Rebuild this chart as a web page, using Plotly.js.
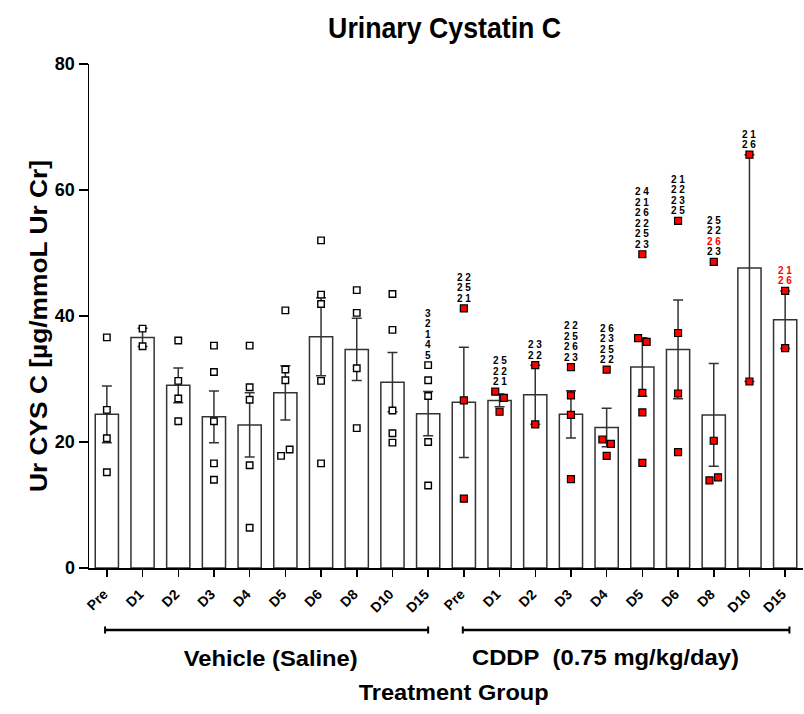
<!DOCTYPE html>
<html>
<head>
<meta charset="utf-8">
<script src="https://cdn.plot.ly/plotly-3.0.1.min.js"></script>
<style>html,body{margin:0;padding:0;background:#fff;}#chart{width:804px;height:714px;}</style>
</head>
<body>
<div id="chart"></div>
<script>
// ---- data ----
const days = ['Pre','D1','D2','D3','D4','D5','D6','D8','D10','D15'];
const groupNames = ['Vehicle (Saline)', 'CDDP\u00a0 (0.75 mg/kg/day)'];
const titleText = 'Urinary Cystatin C';
const yTitleText = 'Ur CYS C [µg/mmoL Ur Cr]';
const xTitleText = 'Treatment Group';

const vehicleMean = [24.4, 36.6, 29.0, 24.0, 22.7, 27.8, 36.7, 34.7, 29.5, 24.5];
const vehicleSem  = [4.5, 1.45, 2.75, 4.1, 5.1, 4.3, 6.2, 4.95, 4.7, 3.5];
const cddpMean    = [26.3, 26.6, 27.5, 24.4, 22.3, 31.9, 34.7, 24.3, 47.6, 39.4];
const cddpSem     = [8.75, 1.0, 4.7, 3.75, 3.05, 4.65, 7.85, 8.15, 18.0, 4.55];

const vehiclePoints = [
  [36.6, 25.1, 20.6, 15.2],
  [38.0, 35.2],
  [36.1, 29.7, 26.9, 23.3],
  [35.3, 31.1, 23.3, 16.6, 14.0],
  [35.3, 28.7, 26.7, 16.3, 6.4],
  [40.9, 31.5, 29.8, 17.8, 18.8],
  [52.0, 43.4, 41.9, 29.7, 16.6],
  [44.1, 40.5, 31.7, 22.2],
  [43.5, 37.8, 25.0, 21.4, 19.9],
  [32.2, 29.8, 27.3, 20.0, 13.1]
];
const cddpPoints = [
  [41.2, 26.6, 11.0],
  [28.0, 27.0, 24.8],
  [32.2, 22.8],
  [31.9, 27.4, 24.3, 14.1],
  [31.5, 20.4, 19.7, 17.8],
  [49.8, 36.5, 35.9, 27.8, 24.7, 16.7],
  [55.1, 37.3, 27.7, 18.4],
  [48.6, 20.2, 13.9, 14.4],
  [65.6, 29.6],
  [44.0, 34.9]
];

// animal id labels stacked above the top point (top to bottom)
const vehicleIds = [[],[],[],[],[],[],[],[],[],['3','2','1','4','5']];
const cddpIds = [
  ['22','25','21'],
  ['25','22','21'],
  ['23','22'],
  ['22','25','26','23'],
  ['26','23','25','22'],
  ['24','21','26','22','25','23'],
  ['21','22','23','25'],
  ['25','22','26','23'],
  ['21','26'],
  ['21','26']
];
// ids highlighted in red per CDDP day
const cddpRedIds = [[],[],[],[],[],[],[],['26'],[],['21','26']];

// ---- build ----
const FONT = 'Liberation Sans, Arial, Helvetica, sans-serif';
const n = days.length;
const idxV = days.map((d,i)=>i);
const idxC = days.map((d,i)=>i+n);

function spread(pointsByDay, offset){
  const xs=[], ys=[];
  pointsByDay.forEach((pts, d) => {
    let i = 0;
    while (i < pts.length){
      if (i+1 < pts.length && Math.abs(pts[i]-pts[i+1]) < 1.2){
        xs.push(d+offset-0.12, d+offset+0.12); ys.push(pts[i], pts[i+1]); i += 2;
      } else { xs.push(d+offset); ys.push(pts[i]); i += 1; }
    }
  });
  return {xs, ys};
}
const sv = spread(vehiclePoints, 0);
const sc = spread(cddpPoints, n);

const barStyle = {color:'#ffffff', line:{color:'#333333', width:1.5}};
const errStyle = (arr)=>({type:'data', array:arr, visible:true, color:'#333333', thickness:1.5, width:5});

const traces = [
  {type:'bar', x:idxV, y:vehicleMean, width:0.65, marker:barStyle, error_y:errStyle(vehicleSem), hoverinfo:'skip'},
  {type:'bar', x:idxC, y:cddpMean, width:0.65, marker:barStyle, error_y:errStyle(cddpSem), hoverinfo:'skip'},
  {type:'scatter', mode:'markers', x:sv.xs, y:sv.ys, cliponaxis:false,
   marker:{symbol:'square', size:6.5, color:'#ffffff', line:{color:'#000000', width:1.4}}},
  {type:'scatter', mode:'markers', x:sc.xs, y:sc.ys, cliponaxis:false,
   marker:{symbol:'square', size:7, color:'#ff0000', line:{color:'#000000', width:1.2}}}
];

const annotations = [];
function addIds(idsByDay, pointsByDay, offset, redByDay){
  idsByDay.forEach((ids, d) => {
    if (!ids.length) return;
    const top = Math.max(...pointsByDay[d]);
    ids.forEach((id, k) => {
      const red = redByDay && redByDay[d].includes(id);
      annotations.push({
        x: d+offset, y: top, xref:'x', yref:'y', showarrow:false,
        text: id.split('').join(' '),
        yanchor:'middle', xanchor:'center', borderpad:0,
        yshift: 10 + (ids.length-1-k)*10.5,
        font:{family:FONT, size:10, weight:'bold', color: red ? '#ff0000' : '#000000'}
      });
    });
  });
}
addIds(vehicleIds, vehiclePoints, 0, null);
addIds(cddpIds, cddpPoints, n, cddpRedIds);

const groupFont = {family:FONT, size:22, weight:'bold', color:'#000'};
annotations.push(
  {x:4.57, y:-0.179, xref:'x', yref:'paper', showarrow:false, text:groupNames[0],
   font:groupFont, xanchor:'center', yanchor:'middle'},
  {x:13.96, y:-0.177, xref:'x', yref:'paper', showarrow:false, text:groupNames[1],
   font:groupFont, xanchor:'center', yanchor:'middle'},
  {x:0.51, y:-0.248, xref:'paper', yref:'paper', showarrow:false, text:xTitleText,
   font:groupFont, xanchor:'center', yanchor:'middle'},
  {x:-0.07, y:0.48, xref:'paper', yref:'paper', showarrow:false, text:yTitleText, textangle:-90,
   font:{family:FONT, size:23, weight:'bold', color:'#000'}, xanchor:'center', yanchor:'middle'}
);

const by = -0.123, cap = 0.007;
const brackets = [[-0.05, 9.0], [9.97, 19.12]];
const shapes = [];
brackets.forEach(([a,b]) => {
  shapes.push({type:'line', xref:'x', yref:'paper', x0:a, x1:b, y0:by, y1:by, line:{color:'#000', width:2.5}});
  shapes.push({type:'line', xref:'x', yref:'paper', x0:a, x1:a, y0:by-cap, y1:by+cap, line:{color:'#000', width:2}});
  shapes.push({type:'line', xref:'x', yref:'paper', x0:b, x1:b, y0:by-cap, y1:by+cap, line:{color:'#000', width:2}});
});

const layout = {
  width:804, height:714,
  margin:{l:89, r:1, t:64, b:146},
  paper_bgcolor:'#fff', plot_bgcolor:'#fff',
  showlegend:false,
  title:{text:titleText, xref:'container', x:0.553, xanchor:'center', yref:'container', y:0.962, yanchor:'middle',
         font:{family:FONT, size:30, weight:'bold', color:'#000'}},
  xaxis:{range:[-0.5, 19.5], tickvals: idxV.concat(idxC), ticktext: days.concat(days),
         tickangle:-45, ticks:'outside', ticklen:7, tickwidth:1.5, tickcolor:'#000',
         ticklabelstandoff:4, ticklabelshift:-3,
         showline:true, linecolor:'#000', linewidth:1.5, showgrid:false, zeroline:false,
         tickfont:{family:FONT, size:14, weight:'bold', color:'#000'}},
  yaxis:{range:[0,80], tickvals:[0,20,40,60,80], ticks:'outside', ticklen:9, tickwidth:1.5, tickcolor:'#000',
         showline:true, linecolor:'#000', linewidth:1.5, showgrid:false, zeroline:false,
         tickfont:{family:FONT, size:18, weight:'bold', color:'#000'}},
  annotations, shapes,
  bargap:0.35
};

Plotly.newPlot('chart', traces, layout, {staticPlot:true, displayModeBar:false}).then(gd => {
  // match the reference's text widths (narrow title, wide labels)
  const fit = {};
  fit[titleText] = 233;
  fit[groupNames[0]] = 174;
  fit[groupNames[1]] = 267;
  fit[xTitleText] = 190;
  fit[yTitleText] = 332;
  gd.querySelectorAll('text').forEach(t => {
    const w = fit[t.textContent];
    if (w) { t.setAttribute('textLength', w); t.setAttribute('lengthAdjust', 'spacingAndGlyphs'); }
  });
});
</script>
</body>
</html>
